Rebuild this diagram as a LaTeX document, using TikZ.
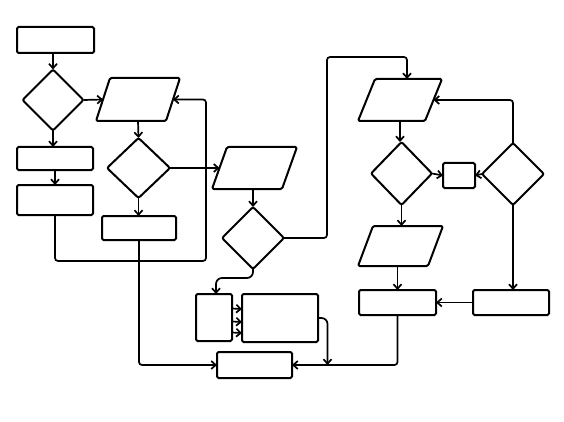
\documentclass[tikz,border=0pt]{standalone}
\usetikzlibrary{shapes.geometric,arrows.meta,calc}
\begin{document}
\begin{tikzpicture}[x=1pt,y=-1pt]
\tikzset{
 shp/.style={draw=black, line width=2pt, inner sep=0pt, outer sep=0pt},
 box/.style={shp, rectangle, rounded corners=1.5pt},
 parabody/.style={shp, draw=none, rectangle},
 paraline/.style={draw=black, line width=2pt, line join=round, rounded corners=1.5pt},
 dia/.style={shp, diamond, aspect=1, rounded corners=2pt},
 conn/.style={draw=black, line width=1.7pt, rounded corners=3pt},
 arr/.style={conn, -{Straight Barb[length=4.5pt,width=8pt]}},
}
\newcommand{\paradraw}[2]{% node name, half horizontal offset
 \draw[paraline] ([xshift=#2]#1.north west) -- ([xshift=#2]#1.north east)
   -- ([xshift=-#2]#1.south east) -- ([xshift=-#2]#1.south west) -- cycle;}
\useasboundingbox (0,0) rectangle (564,422);
% left column
\node[box, minimum width=77pt, minimum height=26pt] (A) at (55.5,40) {};
\node[dia, minimum width=61pt, minimum height=61pt] (D1) at (53,100) {};
\node[box, minimum width=76pt, minimum height=23pt] (B) at (55,158.5) {};
\node[box, minimum width=76pt, minimum height=30pt] (C) at (55,200) {};
% second column
\node[parabody, minimum width=70pt, minimum height=43pt] (P1) at (138,99.5) {};
\paradraw{P1}{7pt}
\node[dia, minimum width=63pt, minimum height=60pt] (D2) at (138.5,168) {};
\node[box, minimum width=74pt, minimum height=24pt] (E) at (139,228) {};
% middle column
\node[parabody, minimum width=70pt, minimum height=42pt] (P2) at (254.5,168) {};
\paradraw{P2}{7.5pt}
\node[dia, minimum width=62pt, minimum height=62pt] (D3) at (253,238) {};
\node[box, minimum width=36pt, minimum height=47pt] (G) at (214,317.5) {};
\node[box, minimum width=76pt, minimum height=48pt] (H) at (280,318) {};
\node[box, minimum width=75pt, minimum height=26pt] (F) at (254.5,365) {};
% right part
\node[parabody, minimum width=67pt, minimum height=42pt] (P3) at (400,100) {};
\paradraw{P3}{8.5pt}
\node[dia, minimum width=61pt, minimum height=63pt] (D4) at (401.5,173.5) {};
\node[box, minimum width=32pt, minimum height=25pt] (S) at (459,175.5) {};
\node[dia, minimum width=62pt, minimum height=62pt] (D5) at (513,174) {};
\node[parabody, minimum width=70pt, minimum height=40pt] (P4) at (400.5,246) {};
\paradraw{P4}{7.5pt}
\node[box, minimum width=77pt, minimum height=25pt] (K) at (397.5,302.5) {};
\node[box, minimum width=76pt, minimum height=25pt] (J) at (511,302.5) {};
% helper coordinates
\coordinate (j1) at (206,261);
\coordinate (j2) at (327,57);
\coordinate (hj) at ([xshift=35.5pt]F.east);
% connectors
\draw[arr] (A.south -| D1.north) -- (D1.north);
\draw[arr] (D1.east) -- (P1.west);
\draw[arr] (D1.south) -- (D1.south |- B.north);
\draw[arr] (B.south) -- (C.north);
\draw[arr] (P1.south) -- (D2.north);
\draw[arr] (D2.south) -- (D2.south |- E.north);
\draw[arr] (C.south) |- (j1) |- (P1.east);
\draw[arr] (E.south) |- (F.west);
\draw[arr] (D2.east) -- (P2.west);
\draw[arr] (P2.south -| D3.north) -- (D3.north);
\draw[arr] (D3.east) -| (j2) -| ($(P3.north)+(7,0)$);
\draw[arr, rounded corners=6pt] (D3.south) -- ++(0,9) -| ($(G.north)+(2,0)$);
\draw[arr] ($(G.east)+(0,-9)$) -- ($(H.west)+(0,-9)$);
\draw[arr] ($(G.east)+(0,4)$) -- ($(H.west)+(0,4)$);
\draw[arr] ($(G.east)+(0,15)$) -- ($(H.west)+(0,15)$);
\draw[arr, rounded corners=6pt] (H.east) -| (hj);
\draw[arr] (K.south) |- (F.east);
\draw[arr] (P3.south) -- (P3.south |- D4.north);
\draw[arr] (D4.east) -- (S.west);
\draw[arr] (D5.west) -- (S.east);
\draw[arr] (D5.north) |- (P3.east);
\draw[arr] (D5.south) -- (D5.south |- J.north);
\draw[arr] (J.west) -- (K.east);
\draw[arr] (D4.south) -- (D4.south |- P4.north);
\draw[arr] (P4.south -| K.north) -- (K.north);
\end{tikzpicture}
\end{document}
